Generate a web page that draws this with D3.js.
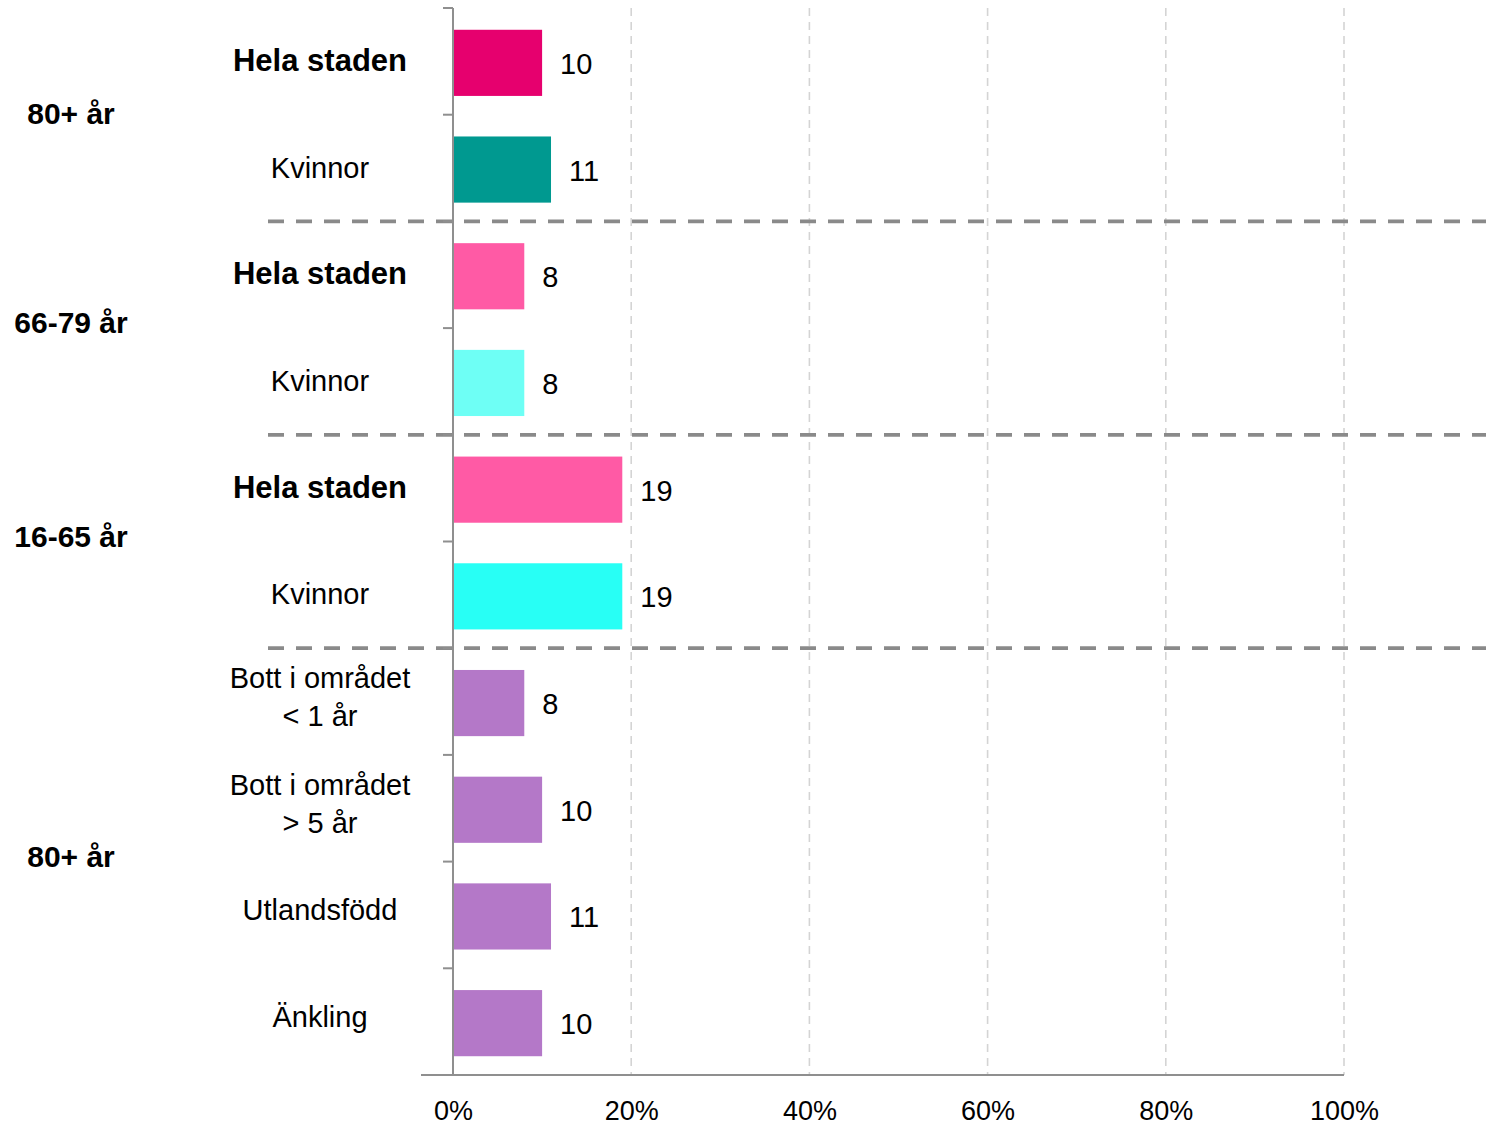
<!DOCTYPE html>
<html>
<head>
<meta charset="utf-8">
<script src="https://cdn.jsdelivr.net/npm/d3@7"></script>
<style>
  html, body { margin: 0; padding: 0; background: #fff; }
  svg { display: block; font-family: "Liberation Sans", Arial, sans-serif; }
</style>
</head>
<body>
<svg id="chart" width="1486" height="1126"></svg>
<script>
// Age groups and the rows that belong to each of them
const groups = ["80+ år", "66-79 år", "16-65 år", "80+ år"];
const groupOfRow = [0, 0, 1, 1, 2, 2, 3, 3, 3, 3];

// Row labels (a "\n" splits a label onto two lines)
const categories = [
  "Hela staden", "Kvinnor",
  "Hela staden", "Kvinnor",
  "Hela staden", "Kvinnor",
  "Bott i området\n< 1 år", "Bott i området\n> 5 år", "Utlandsfödd", "Änkling"
];
const boldRows = [true, false, true, false, true, false, false, false, false, false];

// Share in percent
const values = [10, 11, 8, 8, 19, 19, 8, 10, 11, 10];

const barColors = [
  "#E6006E", "#009990",
  "#FF5AA5", "#6EFFF5",
  "#FF5AA5", "#28FFF5",
  "#B478C8", "#B478C8", "#B478C8", "#B478C8"
];

const xTicks = [0, 20, 40, 60, 80, 100];

// Layout
const plotTop = 8, plotBottom = 1075;
const plotLeft = 453, plotRight = 1344;

const svg = d3.select("#chart");

const x = d3.scaleLinear().domain([0, 100]).range([plotLeft, plotRight]);
const rowIdx = d3.range(categories.length);
const y = d3.scaleBand().domain(rowIdx).range([plotTop + 1.5, plotBottom + 1.5])
  .paddingInner(0.38).paddingOuter(0.19);
const rowEdge = d3.scaleLinear().domain([0, categories.length]).range([plotTop, plotBottom]);
const rowMid = i => y(i) + y.bandwidth() / 2;

// Vertical dashed grid lines
svg.append("g")
  .selectAll("line")
  .data(xTicks.filter(t => t > 0))
  .join("line")
  .attr("x1", d => x(d)).attr("x2", d => x(d))
  .attr("y1", plotTop).attr("y2", plotBottom)
  .attr("stroke", "#d4d4d4")
  .attr("stroke-width", 1.6)
  .attr("stroke-dasharray", "8,6");

// Bars
svg.append("g")
  .selectAll("rect")
  .data(rowIdx)
  .join("rect")
  .attr("x", x(0))
  .attr("y", i => y(i))
  .attr("width", i => x(values[i]) - x(0))
  .attr("height", y.bandwidth())
  .attr("fill", i => barColors[i]);

// Group separators
const groupEnds = [];
groupOfRow.forEach((g, i) => {
  if (i < groupOfRow.length - 1 && groupOfRow[i + 1] !== g) groupEnds.push(i + 1);
});
svg.append("g")
  .selectAll("line")
  .data(groupEnds)
  .join("line")
  .attr("x1", 268).attr("x2", 1486)
  .attr("y1", d => rowEdge(d)).attr("y2", d => rowEdge(d))
  .attr("stroke", "#8a8a8a")
  .attr("stroke-width", 3.8)
  .attr("stroke-dasharray", "16,12");

// Vertical axis with row ticks
const axisColor = "#8f8f8f";
const yAxis = svg.append("g");
yAxis.append("line")
  .attr("x1", plotLeft).attr("x2", plotLeft)
  .attr("y1", plotTop).attr("y2", plotBottom)
  .attr("stroke", axisColor).attr("stroke-width", 2);
yAxis.selectAll("line.tick")
  .data(d3.range(0, categories.length))
  .join("line")
  .attr("class", "tick")
  .attr("x1", plotLeft - 10).attr("x2", plotLeft)
  .attr("y1", d => rowEdge(d)).attr("y2", d => rowEdge(d))
  .attr("stroke", axisColor).attr("stroke-width", 2);

// Horizontal axis
const xAxis = svg.append("g").attr("transform", `translate(0,${plotBottom})`)
  .call(d3.axisBottom(x).tickValues(xTicks).tickSize(0).tickPadding(0)
    .tickFormat(d => d + "%"));
xAxis.select(".domain").remove();
xAxis.append("line")
  .attr("x1", 421).attr("x2", plotRight)
  .attr("y1", 0).attr("y2", 0)
  .attr("stroke", axisColor).attr("stroke-width", 2);
xAxis.selectAll(".tick text")
  .attr("y", 45).attr("dy", null)
  .attr("fill", "#000")
  .style("font-family", "\"Liberation Sans\", Arial, sans-serif")
  .style("font-size", "27px");

// Value labels
svg.append("g")
  .selectAll("text")
  .data(rowIdx)
  .join("text")
  .attr("x", i => x(values[i]) + 18)
  .attr("y", i => rowMid(i) + 11)
  .attr("font-size", 29)
  .attr("fill", "#000")
  .text(i => d3.format("d")(values[i]));

// Row labels
const rowLabels = svg.append("g")
  .selectAll("text")
  .data(rowIdx)
  .join("text")
  .attr("x", 320)
  .attr("text-anchor", "middle")
  .attr("font-size", i => boldRows[i] ? 31 : 29)
  .attr("font-weight", i => boldRows[i] ? "bold" : "normal")
  .attr("fill", "#000");
rowLabels.each(function (i) {
  const lines = categories[i].split("\n");
  const el = d3.select(this);
  const offset = groupOfRow[i] === 3 ? 4 : 8;
  if (lines.length === 1) {
    el.attr("y", rowMid(i) + offset).text(lines[0]);
  } else {
    lines.forEach((ln, k) => {
      el.append("tspan")
        .attr("x", 320)
        .attr("y", rowMid(i) - 15 + k * 38)
        .text(ln);
    });
  }
});

// Group labels, centred on their block of rows
svg.append("g")
  .selectAll("text")
  .data(groups.map((g, gi) => {
    const rows = rowIdx.filter(i => groupOfRow[i] === gi);
    return { label: g, mid: (rowEdge(rows[0]) + rowEdge(rows[rows.length - 1] + 1)) / 2 };
  }))
  .join("text")
  .attr("x", 71)
  .attr("y", (d, gi) => d.mid + (gi === 0 ? 9 : 5))
  .attr("text-anchor", "middle")
  .attr("font-size", 30)
  .attr("font-weight", "bold")
  .attr("fill", "#000")
  .text(d => d.label);
</script>
</body>
</html>
